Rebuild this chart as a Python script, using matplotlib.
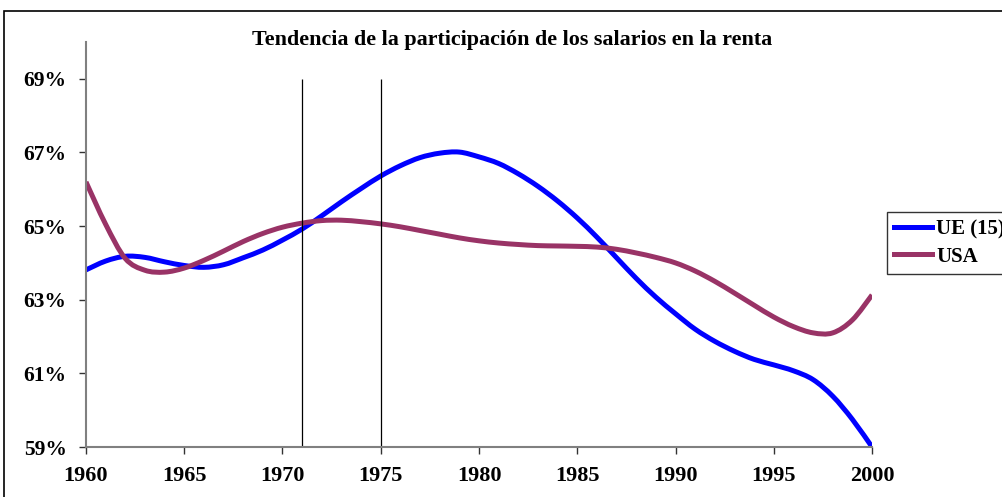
"""
tendencia de la participacion de los salarios en la renta, UE(15) vs USA
"""
import matplotlib
matplotlib.use("Agg")
import matplotlib.pyplot as plt
from matplotlib.patches import Rectangle, PathPatch
from matplotlib.path import Path
from matplotlib.lines import Line2D

years = list(range(1960, 2001))

# valores (% de la renta)
ue15 = [63.81, 64.05, 64.18, 64.15, 64.03, 63.93, 63.88, 63.95, 64.14, 64.35,
        64.62, 64.92, 65.28, 65.66, 66.02, 66.36, 66.64, 66.86, 66.98, 67.01,
        66.88, 66.70, 66.42, 66.08, 65.68, 65.22, 64.70, 64.14, 63.58, 63.07,
        62.62, 62.20, 61.87, 61.60, 61.38, 61.23, 61.07, 60.83, 60.38, 59.75,
        59.00]
usa = [66.20, 65.05, 64.12, 63.80, 63.75, 63.86, 64.07, 64.32, 64.58, 64.80,
       64.97, 65.08, 65.15, 65.16, 65.12, 65.06, 64.98, 64.88, 64.78, 64.68,
       64.60, 64.54, 64.50, 64.47, 64.46, 64.45, 64.43, 64.37, 64.27, 64.15,
       64.00, 63.78, 63.50, 63.18, 62.85, 62.53, 62.27, 62.10, 62.10, 62.45,
       63.13]

marker_years = [1971, 1975]
xticks = [1960, 1965, 1970, 1975, 1980, 1985, 1990, 1995, 2000]
yticks = [59, 61, 63, 65, 67, 69]
ytick_labels = ["59%", "61%", "63%", "65%", "67%", "69%"]

BLUE = "#0000FF"
PLUM = "#993366"


def smooth_path(xs, ys):
    # linea suavizada tipo Excel (Catmull-Rom como curvas de Bezier)
    pts = list(zip(xs, ys))
    verts = [pts[0]]
    codes = [Path.MOVETO]
    n = len(pts)
    for i in range(n - 1):
        p0 = pts[max(i - 1, 0)]
        p1 = pts[i]
        p2 = pts[i + 1]
        p3 = pts[min(i + 2, n - 1)]
        c1 = (p1[0] + (p2[0] - p0[0]) / 6, p1[1] + (p2[1] - p0[1]) / 6)
        c2 = (p2[0] - (p3[0] - p1[0]) / 6, p2[1] - (p3[1] - p1[1]) / 6)
        verts += [c1, c2, p2]
        codes += [Path.CURVE4] * 3
    return Path(verts, codes)


plt.rcParams["font.family"] = ["Liberation Serif", "DejaVu Serif"]
plt.rcParams["font.weight"] = "bold"

fig = plt.figure(figsize=(10.02, 4.97), dpi=100)
ax = fig.add_axes([0.0858, 0.1006, 0.7845, 0.8149])

# marco exterior del grafico (cortado por la derecha y abajo)
fig.patches.append(Rectangle((4 / 1002, -0.2), 1.5, 1.2 - 10.5 / 497,
                             transform=fig.transFigure, fill=False,
                             edgecolor="black", linewidth=1.2))

ax.vlines(marker_years, 59, 69, color="black", linewidth=0.9)
for vals, col in [(ue15, BLUE), (usa, PLUM)]:
    ax.add_patch(PathPatch(smooth_path(years, vals), fill=False,
                           edgecolor=col, linewidth=3.6, capstyle="butt",
                           joinstyle="round"))

ax.set_xlim(1960, 2000)
ax.set_ylim(59, 70)
ax.set_xticks(xticks)
ax.set_yticks(yticks)
ax.set_yticklabels(ytick_labels)

for side in ["top", "right"]:
    ax.spines[side].set_visible(False)
for side in ["left", "bottom"]:
    ax.spines[side].set_color("#808080")
    ax.spines[side].set_linewidth(1.5)
ax.tick_params(axis="both", labelsize=15.5, color="#333333", width=1.0,
               length=5, direction="out")
ax.tick_params(axis="x", pad=9, labelsize=16)
ax.tick_params(axis="y", pad=9)

fig.text(512 / 1002, 1 - 40 / 497, "Tendencia de la participación de los salarios en la renta",
         ha="center", va="center", fontsize=15.8, fontweight="bold")

handles = [Line2D([], [], color=BLUE, linewidth=3.6),
           Line2D([], [], color=PLUM, linewidth=3.6)]
leg = ax.legend(handles, ["UE (15)", "USA"], loc="upper left",
                bbox_to_anchor=(887 / 1002, 1 - 212 / 497),
                bbox_transform=fig.transFigure, fontsize=15, frameon=True,
                fancybox=False, edgecolor="black", handlelength=1.8,
                handletextpad=0.2, borderpad=0.35, labelspacing=0.35,
                borderaxespad=0)
leg.get_frame().set_linewidth(1.0)

fig.savefig("out.png", dpi=100)
